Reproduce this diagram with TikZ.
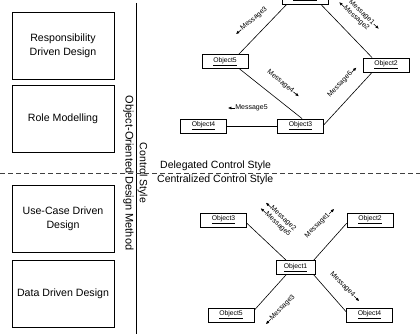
\documentclass[tikz,border=0pt]{standalone}
\usepackage{fontspec}
\setmainfont{Liberation Sans}
\usetikzlibrary{arrows.meta,calc}

\begin{document}
\begin{tikzpicture}[x=1pt,y=-1pt,
    method/.style={draw,line width=.8pt,minimum width=102pt,minimum height=67pt,align=center,font=\fontsize{10.6}{14}\selectfont},
    obj/.style={draw,line width=.8pt,minimum width=46pt,minimum height=14pt,inner sep=0pt,font=\fontsize{6.8}{8}\selectfont},
    msg/.style={inner sep=.3pt,align=center,font=\fontsize{7}{7.8}\selectfont},
    link/.style={line width=.6pt},
    tip/.style={line width=.6pt,-{Latex[length=3.5pt,width=3pt]}}]
\useasboundingbox (0,0) rectangle (420,334);
\clip (0,0) rectangle (420,334);
% design methods
\node[method] (rdd) at (63,45.5) {Responsibility\\Driven Design};
\node[method] (rm) at (63,119) {Role Modelling};
\node[method] (ucd) at (63,219) {Use-Case Driven\\Design};
\node[method] (ddd) at (63,294) {Data Driven Design};
\draw[line width=.8pt] (136,3) -- (136,334);
\draw[line width=.8pt,black!75,dash pattern=on 5pt off 3pt] (0,173) -- (420,173);
\node[rotate=-90,font=\fontsize{11}{13}\selectfont] (oodm) at (128.5,173) {Object-Oriented Design Method};
\node[rotate=-90,font=\fontsize{10.5}{12}\selectfont] (cs) at (142.5,173) {Control Style};
\node[anchor=west,inner sep=0pt,font=\fontsize{10.5}{12}\selectfont] (dcs) at (160,166) {Delegated Control Style};
\node[anchor=west,inner sep=0pt,font=\fontsize{10.5}{12}\selectfont] (ccs) at (157,180) {Centralized Control Style};

% delegated
\node[obj] (d1) at (305,-3) {\underline{Object1}};
\node[obj] (d5) at (225,61.5) {\underline{Object5}};
\node[obj] (d2) at (386,65) {\underline{Object2}};
\node[obj] (d3) at (300.5,126) {\underline{Object3}};
\node[obj] (d4) at (203.5,126) {\underline{Object4}};
\draw[link] (d1.-158) -- (d5.28);
\draw[link] (d1.-25) -- (d2.152);
\draw[link] (d5.-27) -- (d3.78);
\draw[link] (d3.3) -- (d2.-152);
\draw[link] (d4.east) -- (d3.west);
\node[msg,rotate=40] (dm3) at (254,19) {Message3};
\draw[tip] (dm3.west) -- ($(dm3.west)!-7pt!(dm3.east)$);
\node[msg,rotate=-43] (dm12) at (359,15.5) {Message1\\Message2};
\coordinate (dm1e) at ($(dm12.north east)!.5!(dm12.east)$);
\coordinate (dm1w) at ($(dm12.north west)!.5!(dm12.west)$);
\coordinate (dm2w) at ($(dm12.south west)!.5!(dm12.west)$);
\coordinate (dm2e) at ($(dm12.south east)!.5!(dm12.east)$);
\draw[tip] (dm1e) -- ($(dm1e)!-7pt!(dm1w)$);
\draw[tip] (dm2w) -- ($(dm2w)!-7pt!(dm2e)$);
\node[msg,rotate=-39] (dm4) at (280.5,81.5) {Message4};
\draw[tip] (dm4.east) -- ($(dm4.east)!-7pt!(dm4.west)$);
\node[msg,rotate=46] (dm6) at (340,84.5) {Message6};
\draw[tip] (dm6.east) -- ($(dm6.east)!-7pt!(dm6.west)$);
\node[msg] (dm5) at (251.5,108) {Message5};
\draw[tip] (dm5.west) -- ($(dm5.west)!-7pt!(dm5.east)$);

% centralized
\node[obj,minimum width=39pt] (c1) at (295.5,267.5) {\underline{Object1}};
\node[obj] (c3) at (223.5,220) {\underline{Object3}};
\node[obj] (c2) at (370,220) {\underline{Object2}};
\node[obj] (c5) at (231,315) {\underline{Object5}};
\node[obj] (c4) at (369.5,315) {\underline{Object4}};
\draw[link] (c1.142) -- (c3.-8);
\draw[link] (c1.22) -- (c2.-172);
\draw[link] (c1.-142) -- (c5.12);
\draw[link] (c1.-22) -- (c4.172);
\node[msg,rotate=-43] (cm25) at (280.5,221.5) {Message2\\Message5};
\coordinate (cm2w) at ($(cm25.north west)!.5!(cm25.west)$);
\coordinate (cm2e) at ($(cm25.north east)!.5!(cm25.east)$);
\coordinate (cm5w) at ($(cm25.south west)!.5!(cm25.west)$);
\coordinate (cm5e) at ($(cm25.south east)!.5!(cm25.east)$);
\draw[tip] (cm2w) -- ($(cm2w)!-7pt!(cm2e)$);
\draw[tip] (cm5w) -- ($(cm5w)!-7pt!(cm5e)$);
\node[msg,rotate=45] (cm1) at (317.5,225.5) {Message1};
\draw[tip] (cm1.east) -- ($(cm1.east)!-7pt!(cm1.west)$);
\node[msg,rotate=-45] (cm4) at (342.5,284.5) {Message4};
\draw[tip] (cm4.east) -- ($(cm4.east)!-7pt!(cm4.west)$);
\node[msg,rotate=45] (cm3) at (282.5,307.5) {Message3};
\draw[tip] (cm3.west) -- ($(cm3.west)!-7pt!(cm3.east)$);
\end{tikzpicture}
\end{document}
